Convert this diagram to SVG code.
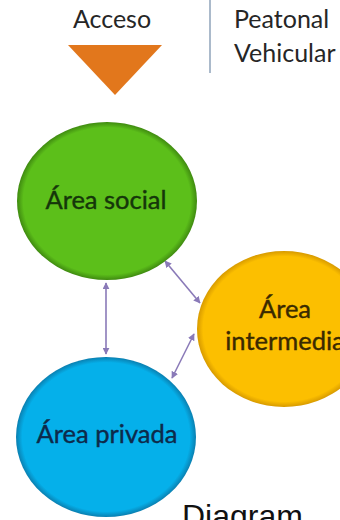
<svg xmlns="http://www.w3.org/2000/svg" width="340" height="520" viewBox="0 0 340 520">
<defs>
<style>
.lbl{font-family:Lato,"Open Sans","DejaVu Sans",sans-serif;font-size:25.5px;text-anchor:middle;stroke-width:0.4}
.hdr{font-family:Lato,"Open Sans","DejaVu Sans",sans-serif;font-size:25px;fill:#262626}
.con{stroke:#8a7ab8;stroke-width:1.6;fill:none;marker-start:url(#ah);marker-end:url(#ah)}
</style>
<marker id="ah" viewBox="0 0 10 10" refX="9" refY="5" markerWidth="7" markerHeight="7" orient="auto-start-reverse" markerUnits="userSpaceOnUse">
<path d="M0,0 L10,5 L0,10 z" fill="#8a7ab8"/>
</marker>
<radialGradient id="gG" cx="50%" cy="50%" r="50%"><stop offset="0.93" stop-color="#5cbf1a"/><stop offset="1" stop-color="#3f8a10"/></radialGradient>
<radialGradient id="gO" cx="50%" cy="50%" r="50%"><stop offset="0.93" stop-color="#fcbf00"/><stop offset="1" stop-color="#d79a00"/></radialGradient>
<radialGradient id="gB" cx="50%" cy="50%" r="50%"><stop offset="0.93" stop-color="#05b0ea"/><stop offset="1" stop-color="#0a7fb0"/></radialGradient>
</defs>
<rect width="340" height="520" fill="#ffffff"/>
<g id="acceso">
<text class="hdr" x="112" y="28" text-anchor="middle">Acceso</text>
<polygon points="68,45 162,45 115,95" fill="#e2771c"/>
</g>
<line x1="210" y1="0" x2="210" y2="73" stroke="#8fa3ba" stroke-width="1.5"/>
<g id="leyenda">
<text class="hdr" x="234" y="28">Peatonal</text>
<text class="hdr" x="234" y="62">Vehicular</text>
</g>
<g id="connectors">
<line class="con" x1="106" y1="283" x2="106" y2="354"/>
<line class="con" x1="165" y1="261" x2="200" y2="303"/>
<line class="con" x1="194" y1="334" x2="172" y2="378"/>
</g>
<g id="area-social">
<ellipse cx="107" cy="201" rx="90" ry="79" fill="url(#gG)"/>
<text class="lbl" x="106" y="209" fill="#15360a" stroke="#15360a">Área social</text>
</g>
<g id="area-intermedia">
<ellipse cx="284" cy="329" rx="87" ry="78" fill="url(#gO)"/>
<text class="lbl" x="285" y="318" fill="#3a2a00" stroke="#3a2a00">Área</text>
<text class="lbl" x="285" y="350" fill="#3a2a00" stroke="#3a2a00">intermedia</text>
</g>
<g id="area-privada">
<ellipse cx="106" cy="437" rx="90" ry="80" fill="url(#gB)"/>
<text class="lbl" x="107" y="443" fill="#0d2a4a" stroke="#0d2a4a">Área privada</text>
</g>
<text x="182" y="527" font-family="'Liberation Sans',Arial,sans-serif" font-size="32" fill="#111">Diagram</text>
</svg>
